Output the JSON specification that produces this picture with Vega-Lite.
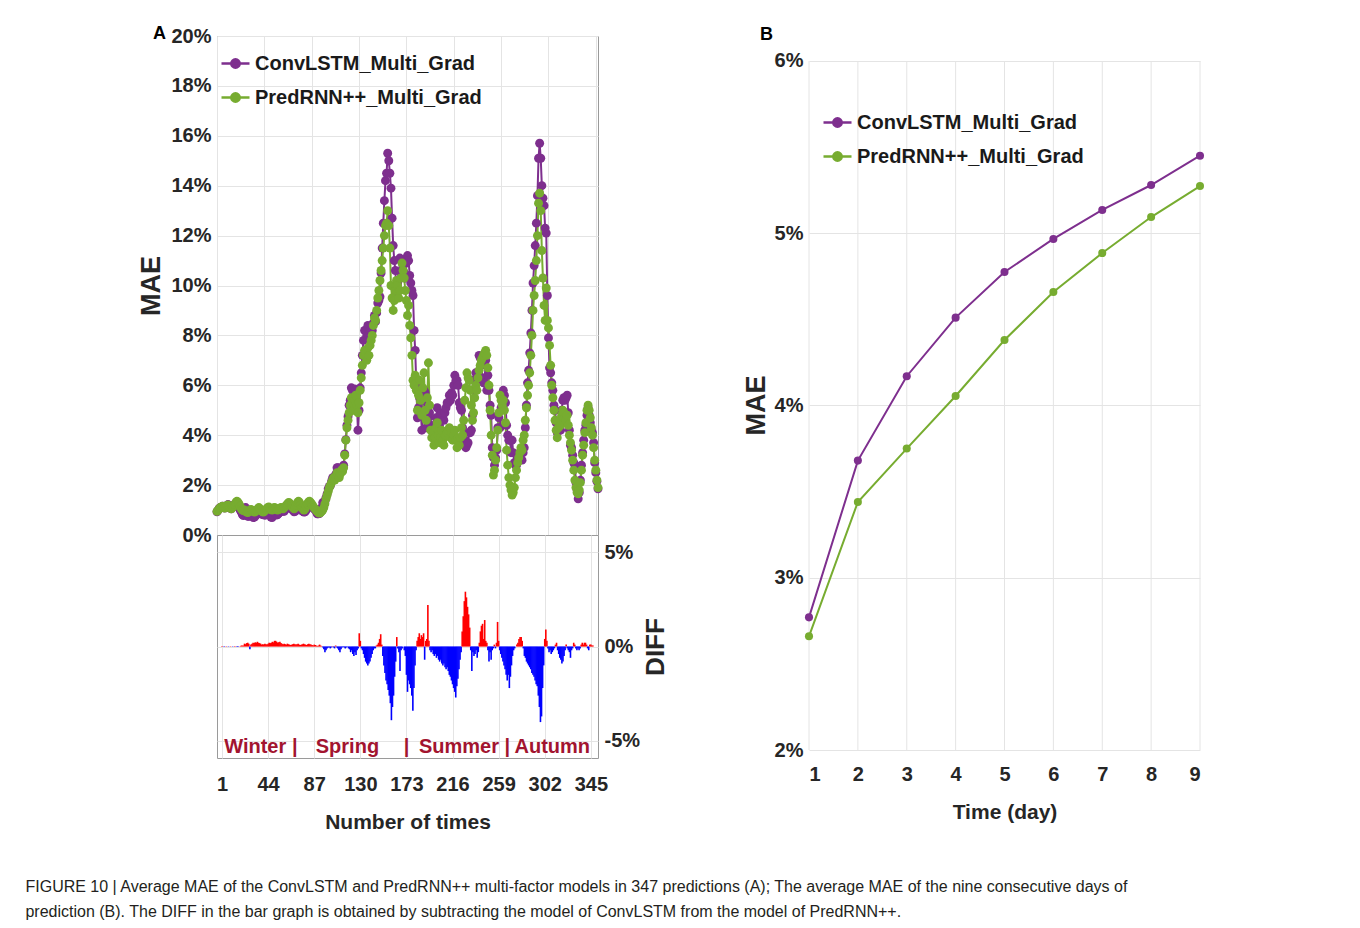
{
"$schema": "https://vega.github.io/schema/vega-lite/v6.json",
"background": "white",
"padding": {"left": 25, "top": 24, "right": 5, "bottom": 5},
"config": {
  "view": {"stroke": "#9a9a9a", "strokeWidth": 1},
  "axis": {"labelFont": "Liberation Sans, Arial, sans-serif", "labelFontWeight": "bold", "labelFontSize": 20, "labelColor": "#262626", "titleColor": "#262626", "gridColor": "#e4e4e4", "domain": false, "ticks": false, "labelPadding": 6}
},
"title": {"text": ["FIGURE 10 | Average MAE of the ConvLSTM and PredRNN++ multi-factor models in 347 predictions (A); The average MAE of the nine consecutive days of", "prediction (B). The DIFF in the bar graph is obtained by subtracting the model of ConvLSTM from the model of PredRNN++."], "orient": "bottom", "anchor": "start", "frame": "bounds", "font": "Liberation Sans, Arial, sans-serif", "fontSize": 16, "fontWeight": "normal", "color": "#231f20", "lineHeight": 25, "offset": 46, "dx": -112},
"datasets": {
"a": [
{"t":1,"c":0.93,"p":0.95,"d":0.02},{"t":2,"c":1.0,"p":1.0,"d":0},{"t":3,"c":1.07,"p":1.05,"d":-0.02},{"t":4,"c":1.1,"p":1.1,"d":0},{"t":5,"c":1.1,"p":1.12,"d":0.02},{"t":6,"c":1.15,"p":1.15,"d":0},{"t":7,"c":1.12,"p":1.1,"d":-0.02},{"t":8,"c":1.08,"p":1.08,"d":0},{"t":9,"c":1.1,"p":1.12,"d":0.02},{"t":10,"c":1.18,"p":1.18,"d":0},
{"t":11,"c":1.22,"p":1.2,"d":-0.02},{"t":12,"c":1.15,"p":1.15,"d":0},{"t":13,"c":1.08,"p":1.1,"d":0.02},{"t":14,"c":1.05,"p":1.05,"d":0},{"t":15,"c":1.12,"p":1.1,"d":-0.02},{"t":16,"c":1.18,"p":1.15,"d":-0.03},{"t":17,"c":1.22,"p":1.22,"d":0},{"t":18,"c":1.28,"p":1.3,"d":0.02},{"t":19,"c":1.3,"p":1.35,"d":0.05},{"t":20,"c":1.27,"p":1.32,"d":0.05},
{"t":21,"c":1.2,"p":1.25,"d":0.05},{"t":22,"c":1.0,"p":1.15,"d":0.15},{"t":23,"c":0.93,"p":1.05,"d":0.12},{"t":24,"c":0.82,"p":1.0,"d":0.18},{"t":25,"c":0.78,"p":0.98,"d":0.2},{"t":26,"c":0.85,"p":1.0,"d":0.15},{"t":27,"c":1.1,"p":0.95,"d":-0.15},{"t":28,"c":0.82,"p":0.92,"d":0.1},{"t":29,"c":0.75,"p":0.9,"d":0.15},{"t":30,"c":0.75,"p":0.95,"d":0.2},
{"t":31,"c":0.82,"p":1.0,"d":0.18},{"t":32,"c":0.8,"p":1.02,"d":0.22},{"t":33,"c":0.78,"p":0.98,"d":0.2},{"t":34,"c":0.7,"p":0.95,"d":0.25},{"t":35,"c":0.72,"p":0.92,"d":0.2},{"t":36,"c":0.77,"p":0.95,"d":0.18},{"t":37,"c":0.85,"p":1.0,"d":0.15},{"t":38,"c":0.95,"p":1.05,"d":0.1},{"t":39,"c":0.98,"p":1.1,"d":0.12},{"t":40,"c":0.95,"p":1.05,"d":0.1},
{"t":41,"c":0.85,"p":1.0,"d":0.15},{"t":42,"c":0.83,"p":0.95,"d":0.12},{"t":43,"c":0.82,"p":0.92,"d":0.1},{"t":44,"c":0.8,"p":0.95,"d":0.15},{"t":45,"c":0.8,"p":1.0,"d":0.2},{"t":46,"c":0.87,"p":1.05,"d":0.18},{"t":47,"c":0.9,"p":1.1,"d":0.2},{"t":48,"c":0.87,"p":1.12,"d":0.25},{"t":49,"c":0.86,"p":1.08,"d":0.22},{"t":50,"c":0.72,"p":1.02,"d":0.3},
{"t":51,"c":0.7,"p":1.0,"d":0.3},{"t":52,"c":0.8,"p":1.05,"d":0.25},{"t":53,"c":0.9,"p":1.1,"d":0.2},{"t":54,"c":0.86,"p":1.08,"d":0.22},{"t":55,"c":0.8,"p":1.05,"d":0.25},{"t":56,"c":0.82,"p":1.0,"d":0.18},{"t":57,"c":0.87,"p":1.02,"d":0.15},{"t":58,"c":0.93,"p":1.05,"d":0.12},{"t":59,"c":0.95,"p":1.1,"d":0.15},{"t":60,"c":0.96,"p":1.08,"d":0.12},
{"t":61,"c":0.95,"p":1.05,"d":0.1},{"t":62,"c":0.95,"p":1.1,"d":0.15},{"t":63,"c":1.03,"p":1.15,"d":0.12},{"t":64,"c":1.1,"p":1.2,"d":0.1},{"t":65,"c":1.17,"p":1.25,"d":0.08},{"t":66,"c":1.2,"p":1.3,"d":0.1},{"t":67,"c":1.16,"p":1.28,"d":0.12},{"t":68,"c":1.07,"p":1.22,"d":0.15},{"t":69,"c":1.03,"p":1.15,"d":0.12},{"t":70,"c":1.0,"p":1.1,"d":0.1},
{"t":71,"c":0.93,"p":1.05,"d":0.12},{"t":72,"c":0.95,"p":1.1,"d":0.15},{"t":73,"c":1.1,"p":1.2,"d":0.1},{"t":74,"c":1.22,"p":1.3,"d":0.08},{"t":75,"c":1.25,"p":1.35,"d":0.1},{"t":76,"c":1.18,"p":1.3,"d":0.12},{"t":77,"c":1.05,"p":1.2,"d":0.15},{"t":78,"c":0.98,"p":1.1,"d":0.12},{"t":79,"c":0.95,"p":1.05,"d":0.1},{"t":80,"c":0.92,"p":1.0,"d":0.08},
{"t":81,"c":0.93,"p":1.05,"d":0.12},{"t":82,"c":1.0,"p":1.15,"d":0.15},{"t":83,"c":1.13,"p":1.25,"d":0.12},{"t":84,"c":1.22,"p":1.32,"d":0.1},{"t":85,"c":1.27,"p":1.35,"d":0.08},{"t":86,"c":1.25,"p":1.3,"d":0.05},{"t":87,"c":1.15,"p":1.25,"d":0.1},{"t":88,"c":1.1,"p":1.18,"d":0.08},{"t":89,"c":1.05,"p":1.1,"d":0.05},{"t":90,"c":1.02,"p":1.05,"d":0.03},
{"t":91,"c":0.95,"p":1.0,"d":0.05},{"t":92,"c":0.85,"p":0.95,"d":0.1},{"t":93,"c":0.85,"p":0.9,"d":0.05},{"t":94,"c":0.86,"p":0.88,"d":0.02},{"t":95,"c":0.95,"p":0.9,"d":-0.05},{"t":96,"c":1.1,"p":0.95,"d":-0.15},{"t":97,"c":1.3,"p":1.0,"d":-0.3},{"t":98,"c":1.3,"p":1.1,"d":-0.2},{"t":99,"c":1.35,"p":1.25,"d":-0.1},{"t":100,"c":1.5,"p":1.45,"d":-0.05},
{"t":101,"c":1.65,"p":1.6,"d":-0.05},{"t":102,"c":1.85,"p":1.75,"d":-0.1},{"t":103,"c":1.95,"p":1.9,"d":-0.05},{"t":104,"c":1.98,"p":2.0,"d":0.02},{"t":105,"c":2.15,"p":2.1,"d":-0.05},{"t":106,"c":2.3,"p":2.2,"d":-0.1},{"t":107,"c":2.25,"p":2.3,"d":0.05},{"t":108,"c":2.25,"p":2.2,"d":-0.05},{"t":109,"c":2.45,"p":2.35,"d":-0.1},{"t":110,"c":2.7,"p":2.5,"d":-0.2},
{"t":111,"c":2.7,"p":2.4,"d":-0.3},{"t":112,"c":2.45,"p":2.3,"d":-0.15},{"t":113,"c":2.5,"p":2.45,"d":-0.05},{"t":114,"c":2.62,"p":2.6,"d":-0.02},{"t":115,"c":2.6,"p":2.55,"d":-0.05},{"t":116,"c":2.8,"p":2.7,"d":-0.1},{"t":117,"c":3.25,"p":3.2,"d":-0.05},{"t":118,"c":3.82,"p":3.8,"d":-0.02},{"t":119,"c":4.4,"p":4.3,"d":-0.1},{"t":120,"c":4.75,"p":4.6,"d":-0.15},
{"t":121,"c":5.2,"p":4.9,"d":-0.3},{"t":122,"c":5.4,"p":5.2,"d":-0.2},{"t":123,"c":5.9,"p":5.5,"d":-0.4},{"t":124,"c":5.8,"p":5.3,"d":-0.5},{"t":125,"c":5.3,"p":5.0,"d":-0.3},{"t":126,"c":5.85,"p":5.4,"d":-0.45},{"t":127,"c":5.8,"p":5.6,"d":-0.2},{"t":128,"c":5.3,"p":5.2,"d":-0.1},{"t":129,"c":4.2,"p":4.9,"d":0.7},{"t":130,"c":5.0,"p":5.3,"d":0.3},
{"t":131,"c":5.9,"p":5.8,"d":-0.1},{"t":132,"c":6.5,"p":6.3,"d":-0.2},{"t":133,"c":7.2,"p":6.8,"d":-0.4},{"t":134,"c":7.8,"p":7.2,"d":-0.6},{"t":135,"c":8.2,"p":7.4,"d":-0.8},{"t":136,"c":8.2,"p":7.3,"d":-0.9},{"t":137,"c":8.0,"p":7.0,"d":-1.0},{"t":138,"c":8.4,"p":7.5,"d":-0.9},{"t":139,"c":8.0,"p":7.2,"d":-0.8},{"t":140,"c":8.2,"p":7.6,"d":-0.6},
{"t":141,"c":8.2,"p":7.8,"d":-0.4},{"t":142,"c":8.2,"p":8.0,"d":-0.2},{"t":143,"c":8.5,"p":8.4,"d":-0.1},{"t":144,"c":8.8,"p":8.7,"d":-0.1},{"t":145,"c":8.55,"p":8.6,"d":0.05},{"t":146,"c":8.9,"p":9.0,"d":0.1},{"t":147,"c":9.3,"p":9.5,"d":0.2},{"t":148,"c":9.4,"p":9.8,"d":0.4},{"t":149,"c":9.55,"p":10.2,"d":0.65},{"t":150,"c":10.5,"p":10.6,"d":0.1},
{"t":151,"c":11.5,"p":11.0,"d":-0.5},{"t":152,"c":12.5,"p":11.5,"d":-1.0},{"t":153,"c":13.4,"p":12.0,"d":-1.4},{"t":154,"c":14.2,"p":12.4,"d":-1.8},{"t":155,"c":14.5,"p":12.5,"d":-2.0},{"t":156,"c":15.3,"p":13.0,"d":-2.3},{"t":157,"c":15.0,"p":12.4,"d":-2.6},{"t":158,"c":14.5,"p":11.5,"d":-3.0},{"t":159,"c":13.9,"p":10.0,"d":-3.9},{"t":160,"c":12.7,"p":9.5,"d":-3.2},
{"t":161,"c":11.6,"p":9.0,"d":-2.6},{"t":162,"c":11.0,"p":9.4,"d":-1.6},{"t":163,"c":10.6,"p":9.8,"d":-0.8},{"t":164,"c":9.7,"p":10.2,"d":0.5},{"t":165,"c":10.1,"p":10.0,"d":-0.1},{"t":166,"c":9.8,"p":9.5,"d":-0.3},{"t":167,"c":11.1,"p":9.8,"d":-1.3},{"t":168,"c":10.5,"p":10.3,"d":-0.2},{"t":169,"c":11.0,"p":10.9,"d":-0.1},{"t":170,"c":10.6,"p":10.6,"d":0},
{"t":171,"c":10.5,"p":10.3,"d":-0.2},{"t":172,"c":10.3,"p":9.8,"d":-0.5},{"t":173,"c":10.9,"p":9.4,"d":-1.5},{"t":174,"c":11.2,"p":8.8,"d":-2.4},{"t":175,"c":11.0,"p":9.2,"d":-1.8},{"t":176,"c":10.4,"p":8.4,"d":-2.0},{"t":177,"c":10.1,"p":7.9,"d":-2.2},{"t":178,"c":9.8,"p":7.2,"d":-2.6},{"t":179,"c":9.6,"p":6.2,"d":-3.4},{"t":180,"c":8.2,"p":6.0,"d":-2.2},
{"t":181,"c":7.4,"p":6.4,"d":-1.0},{"t":182,"c":6.0,"p":5.8,"d":-0.2},{"t":183,"c":4.7,"p":5.0,"d":0.3},{"t":184,"c":5.1,"p":5.6,"d":0.5},{"t":185,"c":5.5,"p":6.2,"d":0.7},{"t":186,"c":5.0,"p":5.4,"d":0.4},{"t":187,"c":4.2,"p":4.8,"d":0.6},{"t":188,"c":5.4,"p":5.9,"d":0.5},{"t":189,"c":5.8,"p":6.5,"d":0.7},{"t":190,"c":5.7,"p":5.0,"d":-0.7},
{"t":191,"c":4.3,"p":4.6,"d":0.3},{"t":192,"c":5.1,"p":5.5,"d":0.4},{"t":193,"c":4.7,"p":6.9,"d":2.2},{"t":194,"c":4.9,"p":5.2,"d":0.3},{"t":195,"c":4.4,"p":4.2,"d":-0.2},{"t":196,"c":4.2,"p":3.9,"d":-0.3},{"t":197,"c":4.3,"p":4.1,"d":-0.2},{"t":198,"c":4.0,"p":3.6,"d":-0.4},{"t":199,"c":4.4,"p":3.9,"d":-0.5},{"t":200,"c":4.7,"p":4.3,"d":-0.4},
{"t":201,"c":5.1,"p":4.5,"d":-0.6},{"t":202,"c":4.5,"p":4.0,"d":-0.5},{"t":203,"c":4.4,"p":3.7,"d":-0.7},{"t":204,"c":4.7,"p":3.9,"d":-0.8},{"t":205,"c":4.9,"p":4.2,"d":-0.7},{"t":206,"c":4.7,"p":3.8,"d":-0.9},{"t":207,"c":4.6,"p":3.6,"d":-1.0},{"t":208,"c":4.9,"p":4.0,"d":-0.9},{"t":209,"c":5.1,"p":4.0,"d":-1.1},{"t":210,"c":5.3,"p":4.1,"d":-1.2},
{"t":211,"c":5.3,"p":4.2,"d":-1.1},{"t":212,"c":5.6,"p":4.3,"d":-1.3},{"t":213,"c":5.4,"p":3.9,"d":-1.5},{"t":214,"c":5.7,"p":4.1,"d":-1.6},{"t":215,"c":5.6,"p":3.8,"d":-1.8},{"t":216,"c":6.0,"p":4.0,"d":-2.0},{"t":217,"c":6.4,"p":4.2,"d":-2.2},{"t":218,"c":6.2,"p":3.8,"d":-2.4},{"t":219,"c":6.2,"p":3.5,"d":-2.7},{"t":220,"c":6.0,"p":3.9,"d":-2.1},
{"t":221,"c":5.3,"p":3.6,"d":-1.7},{"t":222,"c":5.1,"p":3.9,"d":-1.2},{"t":223,"c":5.0,"p":4.3,"d":-0.7},{"t":224,"c":4.3,"p":4.0,"d":-0.3},{"t":225,"c":3.8,"p":4.6,"d":0.8},{"t":226,"c":3.8,"p":5.4,"d":1.6},{"t":227,"c":3.5,"p":5.9,"d":2.4},{"t":228,"c":3.6,"p":6.5,"d":2.9},{"t":229,"c":3.7,"p":6.3,"d":2.6},{"t":230,"c":4.1,"p":6.2,"d":2.1},
{"t":231,"c":4.1,"p":5.8,"d":1.7},{"t":232,"c":4.2,"p":5.2,"d":1.0},{"t":233,"c":4.8,"p":4.6,"d":-0.2},{"t":234,"c":6.2,"p":4.9,"d":-1.3},{"t":235,"c":5.8,"p":5.5,"d":-0.3},{"t":236,"c":6.5,"p":6.0,"d":-0.5},{"t":237,"c":6.2,"p":5.8,"d":-0.4},{"t":238,"c":6.5,"p":6.3,"d":-0.2},{"t":239,"c":7.2,"p":6.6,"d":-0.6},{"t":240,"c":7.1,"p":6.8,"d":-0.3},
{"t":241,"c":6.8,"p":7.0,"d":0.2},{"t":242,"c":6.3,"p":7.1,"d":0.8},{"t":243,"c":6.1,"p":7.2,"d":1.1},{"t":244,"c":6.1,"p":7.3,"d":1.2},{"t":245,"c":7.0,"p":7.4,"d":0.4},{"t":246,"c":5.8,"p":7.2,"d":1.4},{"t":247,"c":6.4,"p":6.7,"d":0.3},{"t":248,"c":5.8,"p":6.0,"d":0.2},{"t":249,"c":5.2,"p":5.0,"d":-0.2},{"t":250,"c":4.8,"p":4.0,"d":-0.8},
{"t":251,"c":3.5,"p":3.2,"d":-0.3},{"t":252,"c":3.1,"p":2.4,"d":-0.7},{"t":253,"c":2.8,"p":2.6,"d":-0.2},{"t":254,"c":3.1,"p":3.0,"d":-0.1},{"t":255,"c":3.4,"p":3.5,"d":0.1},{"t":256,"c":4.3,"p":4.2,"d":-0.1},{"t":257,"c":4.7,"p":4.9,"d":0.2},{"t":258,"c":4.3,"p":5.6,"d":1.3},{"t":259,"c":5.1,"p":5.4,"d":0.3},{"t":260,"c":5.4,"p":5.2,"d":-0.2},
{"t":261,"c":5.8,"p":5.4,"d":-0.4},{"t":262,"c":5.6,"p":5.0,"d":-0.6},{"t":263,"c":5.3,"p":4.5,"d":-0.8},{"t":264,"c":4.4,"p":3.4,"d":-1.0},{"t":265,"c":4.0,"p":2.8,"d":-1.2},{"t":266,"c":3.8,"p":2.3,"d":-1.5},{"t":267,"c":3.8,"p":2.0,"d":-1.8},{"t":268,"c":3.3,"p":1.8,"d":-1.5},{"t":269,"c":3.8,"p":1.6,"d":-2.2},{"t":270,"c":3.3,"p":1.7,"d":-1.6},
{"t":271,"c":2.9,"p":1.9,"d":-1.0},{"t":272,"c":2.8,"p":2.3,"d":-0.5},{"t":273,"c":2.8,"p":2.6,"d":-0.2},{"t":274,"c":3.0,"p":2.9,"d":-0.1},{"t":275,"c":3.1,"p":3.1,"d":0},{"t":276,"c":3.2,"p":3.3,"d":0.1},{"t":277,"c":3.3,"p":3.5,"d":0.2},{"t":278,"c":3.0,"p":3.4,"d":0.4},{"t":279,"c":3.3,"p":3.8,"d":0.5},{"t":280,"c":3.5,"p":4.0,"d":0.5},
{"t":281,"c":4.3,"p":4.6,"d":0.3},{"t":282,"c":5.2,"p":5.1,"d":-0.1},{"t":283,"c":6.1,"p":5.6,"d":-0.5},{"t":284,"c":6.6,"p":6.0,"d":-0.6},{"t":285,"c":7.3,"p":6.5,"d":-0.8},{"t":286,"c":8.1,"p":7.2,"d":-0.9},{"t":287,"c":9.0,"p":8.0,"d":-1.0},{"t":288,"c":10.1,"p":9.0,"d":-1.1},{"t":289,"c":10.8,"p":9.6,"d":-1.2},{"t":290,"c":11.6,"p":10.2,"d":-1.4},
{"t":291,"c":12.5,"p":11.0,"d":-1.5},{"t":292,"c":13.6,"p":12.0,"d":-1.6},{"t":293,"c":15.1,"p":13.3,"d":-1.8},{"t":294,"c":15.7,"p":13.7,"d":-2.0},{"t":295,"c":15.1,"p":13.0,"d":-2.1},{"t":296,"c":14.0,"p":11.4,"d":-2.6},{"t":297,"c":13.5,"p":10.3,"d":-3.2},{"t":298,"c":13.2,"p":9.2,"d":-4.0},{"t":299,"c":12.3,"p":8.6,"d":-3.7},{"t":300,"c":12.1,"p":9.9,"d":-2.2},
{"t":301,"c":9.6,"p":8.6,"d":-1.0},{"t":302,"c":7.9,"p":8.3,"d":0.4},{"t":303,"c":6.7,"p":7.6,"d":0.9},{"t":304,"c":6.5,"p":6.8,"d":0.3},{"t":305,"c":6.1,"p":6.0,"d":-0.1},{"t":306,"c":5.8,"p":5.5,"d":-0.3},{"t":307,"c":5.2,"p":5.0,"d":-0.2},{"t":308,"c":5.0,"p":4.6,"d":-0.4},{"t":309,"c":4.5,"p":4.2,"d":-0.3},{"t":310,"c":4.1,"p":3.9,"d":-0.2},
{"t":311,"c":4.4,"p":4.3,"d":-0.1},{"t":312,"c":4.5,"p":4.6,"d":0.1},{"t":313,"c":4.2,"p":4.4,"d":0.2},{"t":314,"c":5.0,"p":4.8,"d":-0.2},{"t":315,"c":5.4,"p":5.0,"d":-0.4},{"t":316,"c":5.5,"p":4.9,"d":-0.6},{"t":317,"c":5.4,"p":4.7,"d":-0.7},{"t":318,"c":5.5,"p":4.6,"d":-0.9},{"t":319,"c":5.6,"p":4.8,"d":-0.8},{"t":320,"c":4.9,"p":4.4,"d":-0.5},
{"t":321,"c":4.2,"p":4.0,"d":-0.2},{"t":322,"c":3.6,"p":3.7,"d":0.1},{"t":323,"c":3.5,"p":3.4,"d":-0.1},{"t":324,"c":3.2,"p":3.0,"d":-0.2},{"t":325,"c":2.9,"p":2.6,"d":-0.3},{"t":326,"c":2.8,"p":2.2,"d":-0.6},{"t":327,"c":2.1,"p":1.9,"d":-0.2},{"t":328,"c":1.8,"p":1.7,"d":-0.1},{"t":329,"c":1.45,"p":1.65,"d":0.2},{"t":330,"c":1.7,"p":1.8,"d":0.1},
{"t":331,"c":2.2,"p":2.1,"d":-0.1},{"t":332,"c":2.8,"p":2.6,"d":-0.2},{"t":333,"c":3.3,"p":3.2,"d":-0.1},{"t":334,"c":3.8,"p":3.6,"d":-0.2},{"t":335,"c":4.2,"p":4.1,"d":-0.1},{"t":336,"c":4.4,"p":4.5,"d":0.1},{"t":337,"c":4.8,"p":5.0,"d":0.2},{"t":338,"c":5.1,"p":5.2,"d":0.1},{"t":339,"c":4.8,"p":5.0,"d":0.2},{"t":340,"c":4.5,"p":4.7,"d":0.2},
{"t":341,"c":4.2,"p":4.3,"d":0.1},{"t":342,"c":4.1,"p":4.0,"d":-0.1},{"t":343,"c":3.7,"p":3.5,"d":-0.2},{"t":344,"c":2.9,"p":3.0,"d":0.1},{"t":345,"c":2.5,"p":2.6,"d":0.1},{"t":346,"c":2.15,"p":2.2,"d":0.05},{"t":347,"c":1.85,"p":1.9,"d":0.05}
],
"b": [
{"day":1,"c":2.77,"p":2.66},{"day":2,"c":3.68,"p":3.44},{"day":3,"c":4.17,"p":3.75},{"day":4,"c":4.51,"p":4.055},{"day":5,"c":4.775,"p":4.38},{"day":6,"c":4.967,"p":4.659},{"day":7,"c":5.135,"p":4.885},{"day":8,"c":5.28,"p":5.094},{"day":9,"c":5.45,"p":5.274}
],
"s": [
{"t":32,"label":"Winter"},{"t":69,"label":"|"},{"t":118,"label":"Spring"},{"t":173,"label":"|"},{"t":222,"label":"Summer"},{"t":267,"label":"|"},{"t":309,"label":"Autumn"}
]
},
"hconcat": [
  {
    "bounds": "flush",
    "spacing": 0,
    "vconcat": [
      {
        "width": 381, "height": 499,
        "title": {"text": "A", "anchor": "start", "frame": "bounds", "font": "Liberation Sans, Arial, sans-serif", "fontSize": 18, "fontWeight": "bold", "color": "#000000", "offset": 0, "dy": 17, "dx": 15},
        "data": {"name": "a"},
        "transform": [{"fold": ["c", "p"], "as": ["model", "mae"]}],
        "encoding": {
          "x": {"field": "t", "type": "quantitative", "scale": {"domain": [1, 347], "nice": false, "zero": false}, "axis": {"values": [1,44,87,130,173,216,259,302,345], "labels": false, "title": null, "grid": true}},
          "y": {"field": "mae", "type": "quantitative", "scale": {"domain": [0, 20], "nice": false}, "axis": {"values": [0,2,4,6,8,10,12,14,16,18,20], "labelExpr": "datum.value + '%'", "title": "MAE", "titleFont": "Liberation Sans, Arial, sans-serif", "titleFontSize": 27, "titleFontWeight": "bold", "titlePadding": 5, "grid": true}},
          "color": {"field": "model", "type": "nominal", "scale": {"domain": ["c", "p"], "range": ["#7E2F8E", "#77AC30"]},
            "legend": {"title": null, "orient": "none", "legendX": 3, "legendY": 12, "labelExpr": "datum.label == 'c' ? 'ConvLSTM_Multi_Grad' : 'PredRNN++_Multi_Grad'", "labelFont": "Liberation Sans, Arial, sans-serif", "labelFontSize": 20, "labelFontWeight": "bold", "labelColor": "#1a1a1a", "labelLimit": 500, "symbolType": "M-1,0L1,0M-0.3,0A0.3,0.3,0,1,1,0.3,0A0.3,0.3,0,1,1,-0.3,0Z", "symbolSize": 784, "symbolStrokeWidth": 2.5, "rowPadding": 8, "labelOffset": 4}}
        },
        "layer": [
          {"mark": {"type": "line", "strokeWidth": 2}},
          {"mark": {"type": "point", "filled": true, "size": 80, "opacity": 1}, "encoding": {"order": {"field": "model"}}}
        ]
      },
      {
        "width": 381, "height": 223,
        "layer": [
          {
            "data": {"name": "a"},
            "mark": {"type": "bar", "size": 1.6},
            "encoding": {
              "x": {"field": "t", "type": "quantitative", "scale": {"domain": [1, 347], "nice": false, "zero": false}, "axis": {"values": [1,44,87,130,173,216,259,302,345], "labelPadding": 16, "title": "Number of times", "titleFont": "Liberation Sans, Arial, sans-serif", "titleFontSize": 21, "titleFontWeight": "bold", "titlePadding": 17, "grid": true}},
              "y": {"field": "d", "type": "quantitative", "scale": {"domain": [-5.9, 5.9], "nice": false}, "axis": {"orient": "right", "values": [-5, 0, 5], "labelExpr": "datum.value + '%'", "title": "DIFF", "titleAngle": 270, "titleBaseline": "top", "titleFont": "Liberation Sans, Arial, sans-serif", "titleFontSize": 26, "titleFontWeight": "bold", "titlePadding": 3, "grid": true}},
              "color": {"condition": {"test": "datum.d > 0", "value": "#ff0000"}, "value": "#0000ff"}
            }
          },
          {
            "data": {"name": "s"},
            "mark": {"type": "text", "color": "#A2142F", "fontSize": 20, "font": "Liberation Sans, Arial, sans-serif", "fontWeight": "bold"},
            "encoding": {
              "x": {"field": "t", "type": "quantitative"},
              "y": {"datum": -5.3},
              "text": {"field": "label"}
            }
          }
        ]
      }
    ]
  },
  {
    "width": 391, "height": 714,
    "view": {"stroke": null},
    "title": {"text": "B", "anchor": "start", "frame": "bounds", "font": "Liberation Sans, Arial, sans-serif", "fontSize": 18, "fontWeight": "bold", "color": "#000000", "offset": 0, "dy": 8, "dx": 18},
    "layer": [
      {"data": {"name": "b"}, "mark": {"type": "rule", "color": "#e4e4e4", "strokeWidth": 1}, "encoding": {"x": {"field": "day", "type": "quantitative"}, "y": {"datum": 2}, "y2": {"datum": 6}}},
      {
        "data": {"name": "b"},
        "transform": [{"fold": ["c", "p"], "as": ["model", "mae"]}],
        "encoding": {
          "x": {"field": "day", "type": "quantitative", "scale": {"domain": [1, 9], "nice": false, "zero": false}, "axis": {"values": [1,2,3,4,5,6,7,8,9], "labelPadding": 14, "title": "Time (day)", "titleFont": "Liberation Sans, Arial, sans-serif", "titleFontSize": 21, "titleFontWeight": "bold", "titlePadding": 17, "grid": false}},
          "y": {"field": "mae", "type": "quantitative", "scale": {"domain": [2, 6.145], "nice": false, "zero": false}, "axis": {"values": [2,3,4,5,6], "labelExpr": "datum.value + '%'", "title": "MAE", "titleY": 369, "titleFont": "Liberation Sans, Arial, sans-serif", "titleFontSize": 27, "titleFontWeight": "bold", "titlePadding": 4, "grid": true}},
          "color": {"field": "model", "type": "nominal", "scale": {"domain": ["c", "p"], "range": ["#7E2F8E", "#77AC30"]},
            "legend": {"title": null, "orient": "none", "legendX": 13, "legendY": 71, "labelExpr": "datum.label == 'c' ? 'ConvLSTM_Multi_Grad' : 'PredRNN++_Multi_Grad'", "labelFont": "Liberation Sans, Arial, sans-serif", "labelFontSize": 20, "labelFontWeight": "bold", "labelColor": "#1a1a1a", "labelLimit": 500, "symbolType": "M-1,0L1,0M-0.3,0A0.3,0.3,0,1,1,0.3,0A0.3,0.3,0,1,1,-0.3,0Z", "symbolSize": 784, "symbolStrokeWidth": 2.5, "rowPadding": 8, "labelOffset": 4}}
        },
        "layer": [
          {"mark": {"type": "line", "strokeWidth": 2}},
          {"mark": {"type": "point", "filled": true, "size": 65, "opacity": 1}}
        ]
      },
      {"mark": {"type": "rule", "color": "#9a9a9a", "strokeWidth": 1}, "encoding": {"x": {"datum": 1}, "x2": {"datum": 9}, "y": {"datum": 6}}},
      {"mark": {"type": "rule", "color": "#9a9a9a", "strokeWidth": 1}, "encoding": {"x": {"datum": 1}, "x2": {"datum": 9}, "y": {"datum": 2}}},
      {"mark": {"type": "rule", "color": "#9a9a9a", "strokeWidth": 1}, "encoding": {"x": {"datum": 1}, "y": {"datum": 2}, "y2": {"datum": 6}}},
      {"mark": {"type": "rule", "color": "#9a9a9a", "strokeWidth": 1}, "encoding": {"x": {"datum": 9}, "y": {"datum": 2}, "y2": {"datum": 6}}}
    ]
  }
],
"spacing": 72,
"resolve": {"scale": {"color": "independent"}, "legend": {"color": "independent"}}
}
